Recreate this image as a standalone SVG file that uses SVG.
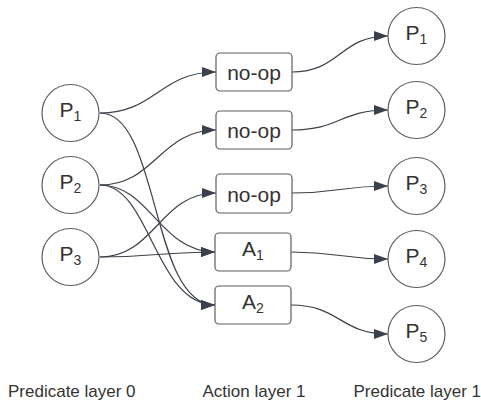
<svg xmlns="http://www.w3.org/2000/svg" width="481" height="400" viewBox="0 0 481 400">
  <defs>
    <marker id="arrow" markerUnits="userSpaceOnUse" markerWidth="14" markerHeight="10" refX="14" refY="5" orient="auto">
      <path d="M0,0 L14,5 L0,10 z" fill="#3a414a"/>
    </marker>
    <style>
      .pred { fill: #ffffff; stroke: #5e5e5e; stroke-width: 1.2; }
      .act { fill: #ffffff; stroke: #5e5e5e; stroke-width: 1.2; }
      .lbl { font-family: "Liberation Sans", Arial, sans-serif; font-size: 21px; fill: #333333; text-anchor: middle; }
      .sub { font-size: 14px; }
      .cap { font-family: "Liberation Sans", Arial, sans-serif; font-size: 17px; fill: #333333; }
      .edge { fill: none; stroke: #3a414a; stroke-width: 1.2; marker-end: url(#arrow); }
    </style>
  </defs>
  <rect width="481" height="400" fill="#ffffff"/>

  <!-- connectors -->
  <g id="connectors">
    <!-- predicate layer 0 to action layer 1 -->
    <path class="edge" d="M100,113 C155,113 160,72 216,72"/>
    <path class="edge" d="M100,113 C160,113 150,305 215,305"/>
    <path class="edge" d="M100,185 C155,185 160,130 216,130"/>
    <path class="edge" d="M100,185 C150,185 160,252 215,252"/>
    <path class="edge" d="M100,185 C150,185 155,305 215,305"/>
    <path class="edge" d="M100,257 C155,257 160,193 216,193"/>
    <path class="edge" d="M100,257 C150,257 165,252 215,252"/>
    <!-- action layer 1 to predicate layer 1 -->
    <path class="edge" d="M292,72 C340,72 340,36 388,36"/>
    <path class="edge" d="M292,130 C340,130 340,110 388,110"/>
    <path class="edge" d="M292,193 C340,193 340,186 388,186"/>
    <path class="edge" d="M291,252 C340,252 340,259 388,259"/>
    <path class="edge" d="M291,305 C340,305 340,334 388,334"/>
  </g>

  <!-- predicate layer 0 -->
  <g id="p0-1"><circle class="pred" cx="70.5" cy="113" r="28.5"/><text class="lbl" x="70.5" y="116.7">P<tspan class="sub" dy="4">1</tspan></text></g>
  <g id="p0-2"><circle class="pred" cx="70.5" cy="185" r="28.5"/><text class="lbl" x="70.5" y="188.7">P<tspan class="sub" dy="4">2</tspan></text></g>
  <g id="p0-3"><circle class="pred" cx="70.5" cy="257" r="28.5"/><text class="lbl" x="70.5" y="260.7">P<tspan class="sub" dy="4">3</tspan></text></g>

  <!-- action layer 1 -->
  <g id="noop-1"><rect class="act" x="216" y="53" width="76" height="38" rx="4"/><text class="lbl" x="254" y="80">no-op</text></g>
  <g id="noop-2"><rect class="act" x="216" y="111" width="76" height="38" rx="4"/><text class="lbl" x="254" y="138">no-op</text></g>
  <g id="noop-3"><rect class="act" x="216" y="174" width="76" height="39" rx="4"/><text class="lbl" x="254" y="201.5">no-op</text></g>
  <g id="a1"><rect class="act" x="215" y="233" width="76" height="38" rx="4"/><text class="lbl" x="253" y="255.7">A<tspan class="sub" dy="4">1</tspan></text></g>
  <g id="a2"><rect class="act" x="215" y="286" width="76" height="38" rx="4"/><text class="lbl" x="253" y="308.7">A<tspan class="sub" dy="4">2</tspan></text></g>

  <!-- predicate layer 1 -->
  <g id="p1-1"><circle class="pred" cx="416.5" cy="36" r="28.5"/><text class="lbl" x="416.5" y="39.7">P<tspan class="sub" dy="4">1</tspan></text></g>
  <g id="p1-2"><circle class="pred" cx="416.5" cy="110" r="28.5"/><text class="lbl" x="416.5" y="113.7">P<tspan class="sub" dy="4">2</tspan></text></g>
  <g id="p1-3"><circle class="pred" cx="416.5" cy="186" r="28.5"/><text class="lbl" x="416.5" y="189.7">P<tspan class="sub" dy="4">3</tspan></text></g>
  <g id="p1-4"><circle class="pred" cx="416.5" cy="259" r="28.5"/><text class="lbl" x="416.5" y="262.7">P<tspan class="sub" dy="4">4</tspan></text></g>
  <g id="p1-5"><circle class="pred" cx="416.5" cy="334" r="28.5"/><text class="lbl" x="416.5" y="337.7">P<tspan class="sub" dy="4">5</tspan></text></g>

  <!-- layer captions -->
  <g id="captions">
    <text class="cap" x="8" y="397">Predicate layer 0</text>
    <text class="cap" x="202.5" y="397">Action layer 1</text>
    <text class="cap" x="353.5" y="397">Predicate layer 1</text>
  </g>
</svg>
